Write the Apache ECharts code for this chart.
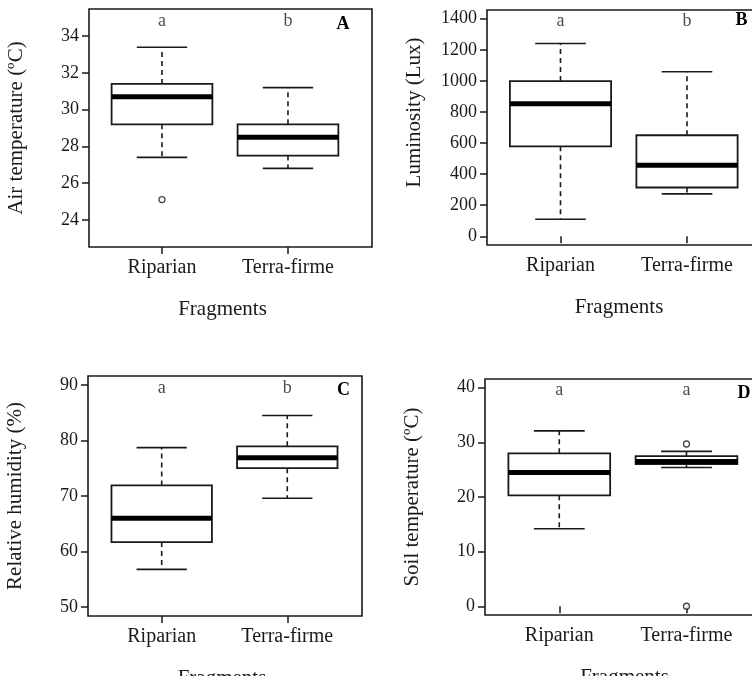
<!DOCTYPE html>
<html>
<head>
<meta charset="utf-8">
<title>Microclimate by fragment type</title>
<script src="https://cdn.jsdelivr.net/npm/echarts@6/dist/echarts.min.js"></script>
<style>
  html, body { margin: 0; padding: 0; background: #fff; }
  #chart { width: 752px; height: 676px; }
</style>
</head>
<body>
<div id="chart"></div>
<script>
// Fragment types shown on every x axis
const categories = ['Riparian', 'Terra-firme'];

// Box summaries per fragment: [lower whisker, Q1, median, Q3, upper whisker]
const airTempBoxes = [[27.4, 29.2, 30.7, 31.4, 33.4], [26.8, 27.5, 28.5, 29.2, 31.2]];
const luminosityBoxes = [[110, 579, 853, 999, 1240], [273, 314, 457, 650, 1059]];
const humidityBoxes = [[56.8, 61.7, 66.0, 71.9, 78.7], [69.6, 75.0, 76.9, 78.95, 84.5]];
const soilTempBoxes = [[14.2, 20.3, 24.5, 28.0, 32.1], [25.4, 26.0, 26.5, 27.5, 28.35]];

// Outlying observations: [category index, value]
const airTempOutliers = [[0, 25.1]];
const luminosityOutliers = [];
const humidityOutliers = [];
const soilTempOutliers = [[1, 29.7], [1, 0]];

// Significance groups above each box
const airTempLetters = ['a', 'b'];
const luminosityLetters = ['a', 'b'];
const humidityLetters = ['a', 'b'];
const soilTempLetters = ['a', 'a'];

// Y tick values and plotting limits
const airTempTicks = [24, 26, 28, 30, 32, 34];
const luminosityTicks = [0, 200, 400, 600, 800, 1000, 1200, 1400];
const humidityTicks = [50, 60, 70, 80, 90];
const soilTempTicks = [0, 10, 20, 30, 40];
const airTempLimits = [23, 35];
const luminosityLimits = [0, 1400];
const humidityLimits = [50, 90];
const soilTempLimits = [0, 40];

const FONT = 'Liberation Serif';
const INK = '#1a1a1a';
const BOX_HALF = 0.4;    // half box width, in category units
const CAP_HALF = 0.2;    // half staple width

const panels = [
  { tag: 'A', title: 'Air temperature (ºC)', boxes: airTempBoxes, outliers: airTempOutliers,
    letters: airTempLetters, ticks: airTempTicks, lim: airTempLimits,
    grid: { left: 89, top: 9, width: 283, height: 238 }, xr: [0.4206, 2.667],
    tagPos: [343, 24], namePad: 16, yNamePad: 0 },
  { tag: 'B', title: 'Luminosity (Lux)', boxes: luminosityBoxes, outliers: luminosityOutliers,
    letters: luminosityLetters, ticks: luminosityTicks, lim: luminosityLimits,
    grid: { left: 487, top: 10, width: 283, height: 235 }, xr: [0.419, 2.656],
    tagPos: [741.5, 20], namePad: 19, yNamePad: 30 },
  { tag: 'C', title: 'Relative humidity (%)', boxes: humidityBoxes, outliers: humidityOutliers,
    letters: humidityLetters, ticks: humidityTicks, lim: humidityLimits,
    grid: { left: 88, top: 376, width: 274, height: 240 }, xr: [0.4132, 2.595],
    tagPos: [343.5, 390], namePad: 6, yNamePad: 0 },
  { tag: 'D', title: 'Soil temperature (ºC)', boxes: soilTempBoxes, outliers: soilTempOutliers,
    letters: soilTempLetters, ticks: soilTempTicks, lim: soilTempLimits,
    grid: { left: 485, top: 379, width: 283, height: 236 }, xr: [0.416, 2.641],
    tagPos: [744, 393], namePad: 4, yNamePad: 0 }
];

// Box, dashed whiskers, staples and thick median, drawn in axis coordinates
function renderBox(params, api) {
  const x = api.value(0);
  const lo = api.value(1), q1 = api.value(2), med = api.value(3), q3 = api.value(4), hi = api.value(5);
  const tl = api.coord([x - BOX_HALF, q3]);
  const br = api.coord([x + BOX_HALF, q1]);
  const cHi = api.coord([x, hi]);
  const cLo = api.coord([x, lo]);
  const cQ3 = api.coord([x, q3]);
  const cQ1 = api.coord([x, q1]);
  const mL = api.coord([x - BOX_HALF, med]);
  const mR = api.coord([x + BOX_HALF, med]);
  const capL = api.coord([x - CAP_HALF, 0])[0];
  const capR = api.coord([x + CAP_HALF, 0])[0];
  const solid = { stroke: INK, lineWidth: 1.6, fill: null };
  const dashed = { stroke: INK, lineWidth: 1.6, lineDash: [5, 4], fill: null };
  return {
    type: 'group',
    children: [
      { type: 'line', shape: { x1: cQ3[0], y1: cQ3[1], x2: cHi[0], y2: cHi[1] }, style: dashed },
      { type: 'line', shape: { x1: cQ1[0], y1: cQ1[1], x2: cLo[0], y2: cLo[1] }, style: dashed },
      { type: 'line', shape: { x1: capL, y1: cHi[1], x2: capR, y2: cHi[1] }, style: solid },
      { type: 'line', shape: { x1: capL, y1: cLo[1], x2: capR, y2: cLo[1] }, style: solid },
      { type: 'rect', shape: { x: tl[0], y: tl[1], width: br[0] - tl[0], height: br[1] - tl[1] },
        style: { stroke: INK, lineWidth: 1.8, fill: '#fff' } },
      { type: 'line', shape: { x1: mL[0], y1: mL[1], x2: mR[0], y2: mR[1] },
        style: { stroke: '#000', lineWidth: 5 } }
    ]
  };
}

const grids = [], xAxes = [], yAxes = [], series = [], graphics = [];

panels.forEach((p, i) => {
  const span = p.lim[1] - p.lim[0];
  grids.push(Object.assign({
    show: true, borderColor: INK, borderWidth: 1.6,
    containLabel: false, outerBoundsMode: 'none'
  }, p.grid));

  xAxes.push({
    type: 'value', gridIndex: i, min: p.xr[0], max: p.xr[1],
    name: 'Fragments', nameLocation: 'middle', nameGap: 52,
    nameTextStyle: { fontFamily: FONT, fontSize: 21, color: INK, padding: [0, p.namePad, 0, 0] },
    axisLine: { show: false },
    splitLine: { show: false },
    axisTick: { show: true, length: 7, customValues: [1, 2], lineStyle: { color: INK, width: 1.5 } },
    axisLabel: { show: true, customValues: [1, 2], margin: 11, fontFamily: FONT, fontSize: 20, color: INK,
      formatter: v => categories[Math.round(v) - 1] }
  });

  yAxes.push({
    type: 'value', gridIndex: i,
    min: p.lim[0] - 0.04 * span, max: p.lim[1] + 0.04 * span,
    name: p.title, nameLocation: 'middle', nameGap: 62,
    nameTextStyle: { fontFamily: FONT, fontSize: 21, color: INK, padding: [0, 0, 0, p.yNamePad] },
    axisLine: { show: false },
    splitLine: { show: false },
    axisTick: { show: true, length: 7, customValues: p.ticks, lineStyle: { color: INK, width: 1.5 } },
    axisLabel: { show: true, customValues: p.ticks, margin: 10, fontFamily: FONT, fontSize: 18, color: INK,
      formatter: v => String(v) }
  });

  series.push({
    type: 'custom', xAxisIndex: i, yAxisIndex: i, clip: false,
    renderItem: renderBox,
    data: p.boxes.map((b, k) => [k + 1].concat(b))
  });

  series.push({
    type: 'scatter', xAxisIndex: i, yAxisIndex: i,
    symbol: 'circle', symbolSize: 6,
    itemStyle: { color: '#fff', borderColor: INK, borderWidth: 1.3 },
    data: p.outliers.map(o => [o[0] + 1, o[1]]),
    z: 5
  });

  series.push({
    type: 'scatter', xAxisIndex: i, yAxisIndex: i,
    symbolSize: 1, itemStyle: { color: 'rgba(0,0,0,0)' },
    label: { show: true, position: 'inside', offset: [0, 3], fontFamily: FONT, fontSize: 18, color: INK,
      formatter: prm => p.letters[prm.dataIndex] },
    data: p.letters.map((l, k) => [k + 1, p.lim[1]]),
    z: 6
  });

  graphics.push({
    type: 'text', x: p.tagPos[0], y: p.tagPos[1],
    style: { text: p.tag, font: 'bold 18px "' + FONT + '"', fill: '#000', align: 'center', verticalAlign: 'middle' }
  });
});

const chart = echarts.init(document.getElementById('chart'), null, { renderer: 'canvas' });
chart.setOption({
  animation: false,
  backgroundColor: '#fff',
  grid: grids,
  xAxis: xAxes,
  yAxis: yAxes,
  series: series,
  graphic: graphics
});
</script>
</body>
</html>
